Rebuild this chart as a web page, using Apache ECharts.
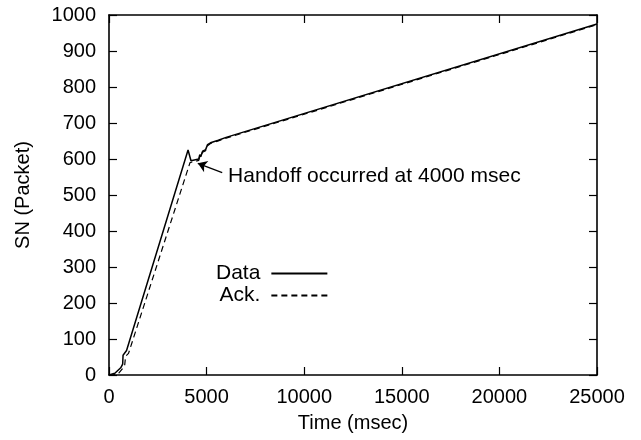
<!DOCTYPE html>
<html>
<head>
<meta charset="utf-8">
<script src="https://cdn.jsdelivr.net/npm/echarts@6/dist/echarts.min.js"></script>
<style>
  html, body { margin: 0; padding: 0; background: #fff; }
  #chart { width: 641px; height: 440px; }
</style>
</head>
<body>
<div id="chart"></div>
<script>
// time (msec) / sequence number pairs
var dataPts = [
    [0, 0], [300, 5], [600, 20], [700, 30], [720, 55], [900, 68],
    [4050, 625], [4200, 595], [4600, 600], [4650, 612], [4700, 606],
    [4800, 622], [4950, 626], [5050, 640], [5200, 645], [5300, 650],
    [5600, 652], [6000, 660], [25000, 975]
];
var ackPts = [
    [0, 0], [200, 0], [500, 5], [800, 25], [850, 52], [1000, 60],
    [4150, 590], [4600, 596], [4650, 608], [4700, 603],
    [4800, 619], [4950, 623], [5050, 637], [5200, 643], [5300, 648],
    [5600, 650], [6000, 658], [25000, 973]
];
var seriesNames = ['Data', 'Ack.'];
var note = 'Handoff occurred at 4000 msec';

var font = 'Liberation Sans, Arial, sans-serif';
var myChart = echarts.init(document.getElementById('chart'));

var axisCommon = {
    axisLine: { show: true, onZero: false, lineStyle: { color: '#000', width: 1.6 } },
    axisTick: { show: true, inside: true, length: 8, lineStyle: { color: '#000', width: 1.2 } },
    splitLine: { show: false }
};
var plain = function (v) { return String(v); };

myChart.setOption({
    animation: false,
    backgroundColor: '#fff',
    grid: { left: 109, right: 44, top: 15, bottom: 65, outerBoundsMode: 'none', containLabel: false },
    legend: {
        orient: 'vertical',
        left: 211,
        top: 258,
        align: 'right',
        itemWidth: 56,
        itemHeight: 12,
        itemGap: 1,
        itemStyle: { opacity: 0 },
        textStyle: { fontFamily: font, fontSize: 21, color: '#000', padding: [0, 6, 0, 0] },
        data: seriesNames
    },
    xAxis: [
        Object.assign({
            type: 'value', min: 0, max: 25000, interval: 5000,
            name: 'Time (msec)', nameLocation: 'middle', nameGap: 38,
            nameTextStyle: { fontFamily: font, fontSize: 20, color: '#000' },
            axisLabel: { fontFamily: font, fontSize: 20, color: '#000', margin: 12, formatter: plain }
        }, axisCommon),
        Object.assign({
            type: 'value', min: 0, max: 25000, interval: 5000, position: 'top',
            axisLabel: { show: false }
        }, axisCommon)
    ],
    yAxis: [
        Object.assign({
            type: 'value', min: 0, max: 1000, interval: 100,
            name: 'SN (Packet)', nameLocation: 'middle', nameGap: 76,
            nameTextStyle: { fontFamily: font, fontSize: 20, color: '#000' },
            axisLabel: { fontFamily: font, fontSize: 20, color: '#000', margin: 13, formatter: plain }
        }, axisCommon),
        Object.assign({
            type: 'value', min: 0, max: 1000, interval: 100, position: 'right',
            axisLabel: { show: false }
        }, axisCommon)
    ],
    series: [
        {
            name: seriesNames[0],
            type: 'line',
            data: dataPts,
            symbol: 'none',
            lineStyle: { color: '#000', width: 1.5 },
            itemStyle: { color: '#000' },
            markLine: {
                silent: true,
                symbol: ['none', 'arrow'],
                symbolSize: 9,
                lineStyle: { color: '#000', width: 1.2, type: 'solid' },
                label: { show: false },
                data: [[{ coord: [5800, 562] }, { coord: [4550, 588] }]]
            }
        },
        {
            name: seriesNames[1],
            type: 'line',
            data: ackPts,
            symbol: 'none',
            lineStyle: { color: '#000', width: 1.2, type: [6, 4] },
            itemStyle: { color: '#000' }
        }
    ]
});

var p = myChart.convertToPixel({ xAxisIndex: 0, yAxisIndex: 0 }, [6100, 553]);
myChart.setOption({
    graphic: [{
        type: 'text',
        x: p[0], y: p[1],
        style: {
            text: note, fontFamily: font, fontSize: 21, fill: '#000',
            textVerticalAlign: 'middle'
        }
    }]
});
</script>
</body>
</html>
